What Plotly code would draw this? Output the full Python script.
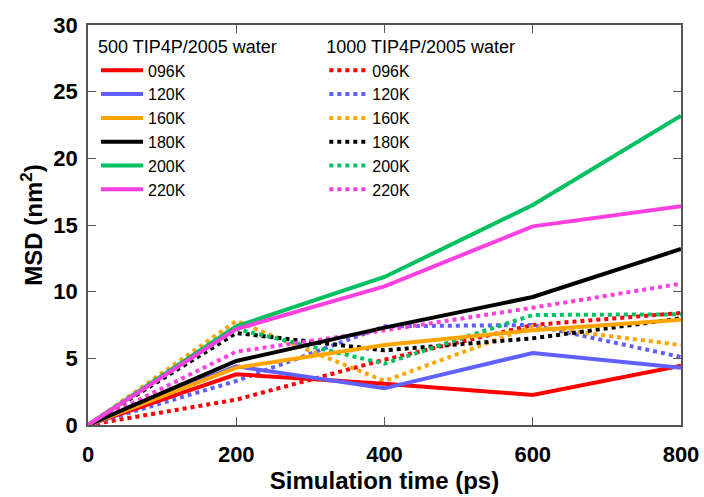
import plotly.graph_objects as go

time_ps = [0, 200, 400, 600, 800]
temps = ["096K", "120K", "160K", "180K", "200K", "220K"]
colors = ["#ff0000", "#6060ff", "#ffa500", "#000000", "#00c060", "#ff40e0"]

# 500 TIP4P/2005 water (solid)
msd_500_096K = [0, 3.8, 3.1, 2.25, 4.45]
msd_500_120K = [0, 4.4, 2.75, 5.4, 4.3]
msd_500_160K = [0, 4.3, 6.0, 7.1, 7.9]
msd_500_180K = [0, 4.8, 7.3, 9.6, 13.2]
msd_500_200K = [0, 7.4, 11.1, 16.5, 23.2]
msd_500_220K = [0, 7.2, 10.4, 14.9, 16.4]

# 1000 TIP4P/2005 water (dotted)
msd_1000_096K = [0, 1.9, 4.9, 7.5, 8.4]
msd_1000_120K = [0, 3.3, 7.4, 7.5, 5.1]
msd_1000_160K = [0, 7.8, 3.3, 7.4, 6.0]
msd_1000_180K = [0, 6.9, 5.6, 6.5, 8.0]
msd_1000_200K = [0, 7.2, 4.6, 8.25, 8.3]
msd_1000_220K = [0, 5.5, 7.1, 8.8, 10.6]

series_500 = [msd_500_096K, msd_500_120K, msd_500_160K, msd_500_180K, msd_500_200K, msd_500_220K]
series_1000 = [msd_1000_096K, msd_1000_120K, msd_1000_160K, msd_1000_180K, msd_1000_200K, msd_1000_220K]

x_ticks = [0, 200, 400, 600, 800]
y_ticks = [0, 5, 10, 15, 20, 25, 30]

fig = go.Figure()
for name, col, ys in zip(temps, colors, series_1000):
    fig.add_trace(go.Scatter(x=time_ps, y=ys, mode="lines", name=name,
                             line=dict(color=col, width=4, dash="dot"),
                             legend="legend2"))
for name, col, ys in zip(temps, colors, series_500):
    fig.add_trace(go.Scatter(x=time_ps, y=ys, mode="lines", name=name,
                             line=dict(color=col, width=4),
                             legend="legend"))

font_family = "Liberation Sans, Arial, sans-serif"
axis_common = dict(showline=True, linecolor="#555555", linewidth=1.5, mirror="ticks",
                   ticks="inside", ticklen=8, tickcolor="#555555", tickwidth=1.2,
                   showgrid=False, zeroline=False, automargin=False,
                   tickfont=dict(family=font_family, size=22, color="black", weight="bold"))

fig.update_layout(
    width=704, height=497,
    paper_bgcolor="white", plot_bgcolor="white",
    margin=dict(l=88, r=23, t=25, b=72, autoexpand=False),
    font=dict(family=font_family, color="black"),
    xaxis=dict(range=[0, 800], tickvals=x_ticks, ticklabelstandoff=9,
               title=dict(text="Simulation time (ps)", standoff=0,
                          font=dict(family=font_family, size=24, color="black", weight="bold")),
               **axis_common),
    yaxis=dict(range=[0, 30], tickvals=y_ticks, ticklabelstandoff=4,
               title=dict(text="MSD (nm<sup>2</sup>)", standoff=4,
                          font=dict(family=font_family, size=24, color="black", weight="bold")),
               **axis_common),
    legend=dict(x=0.0135, y=0.9875, xanchor="left", yanchor="top",
                bgcolor="rgba(0,0,0,0)", traceorder="normal", itemwidth=42,
                title=dict(text="500 TIP4P/2005 water", font=dict(size=18)),
                font=dict(size=16, family=font_family), tracegroupgap=0),
    legend2=dict(x=0.3985, y=0.9875, xanchor="left", yanchor="top",
                 bgcolor="rgba(0,0,0,0)", traceorder="normal", itemwidth=38,
                 title=dict(text="1000 TIP4P/2005 water", font=dict(size=18)),
                 font=dict(size=16, family=font_family), tracegroupgap=0),
)

fig.write_html("out.html", config={"displayModeBar": False},
               post_script="document.body.style.margin='0';")
